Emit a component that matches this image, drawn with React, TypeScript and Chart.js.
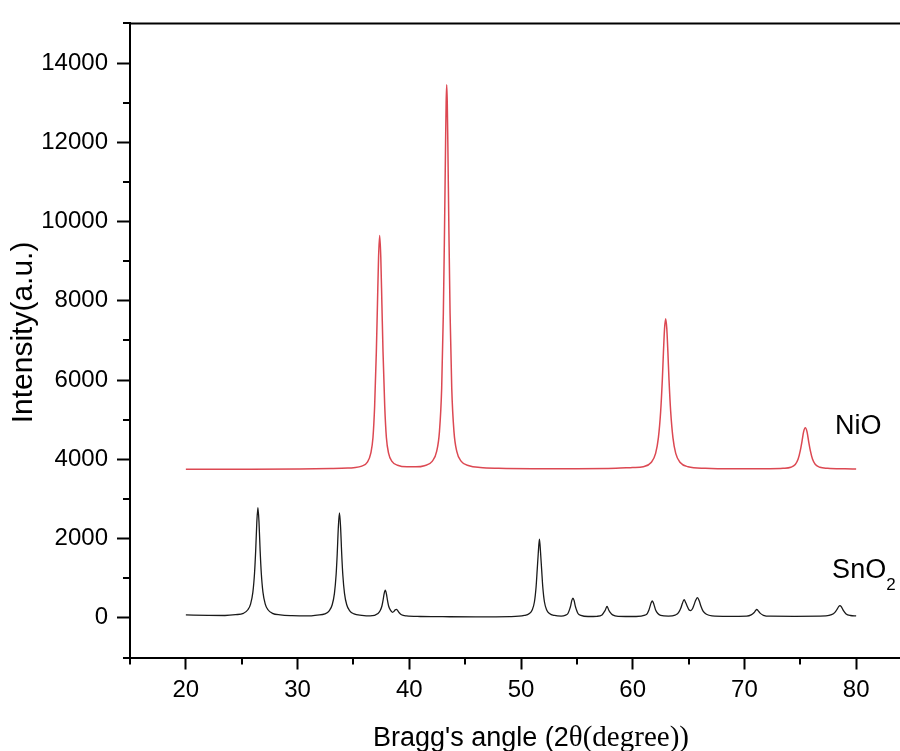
import React, { useEffect, useRef } from 'react';
import { Chart, registerables } from 'chart.js';

Chart.register(...registerables);

// ---- data ----
const niOAngles = [
  20, 25, 30, 33, 34.5, 35.0, 35.75, 36.25, 36.55, 36.75, 36.9, 37.05, 37.15, 37.25, 37.35,
  37.45, 37.55, 37.65, 37.8, 37.95, 38.15, 38.45, 38.95, 39.8, 40.6, 41.35, 42.05, 42.45,
  42.7, 42.9, 43.05, 43.15, 43.25, 43.3, 43.35, 43.4, 43.45, 43.55, 43.65, 43.8, 44.0, 44.25,
  44.65, 45.35, 46.35, 48, 51, 55, 58.5, 60.0, 60.95, 61.65, 62.05, 62.3, 62.5, 62.65, 62.75,
  62.85, 62.95, 63.05, 63.15, 63.25, 63.4, 63.6, 63.85, 64.25, 64.95, 66.5, 69, 72, 73.45,
  74.15, 74.55, 74.8, 75.0, 75.15, 75.3, 75.45, 75.6, 75.75, 75.9, 76.1, 76.35, 76.75, 77.45,
  79, 80,
];
const niOIntensity = [
  3750, 3752, 3758, 3768, 3780, 3790, 3830, 3930, 4150, 4550, 5350, 6700, 7900, 9100, 9650,
  9100, 7900, 6700, 5350, 4550, 4150, 3950, 3850, 3810, 3810, 3840, 3950, 4200,
  4700, 5800, 7700, 9700, 12000, 13000, 13450, 13000, 12000, 9700, 7700, 5800, 4700, 4200,
  3950, 3840, 3795, 3775, 3765, 3765, 3775, 3795, 3815, 3920, 4150, 4550, 5200, 6000, 6700,
  7300, 7550, 7300, 6700, 6000, 5200, 4550, 4150, 3920, 3815, 3775, 3762, 3765, 3775,
  3800, 3870, 4000, 4220, 4450, 4700, 4800, 4700, 4450, 4220, 4000, 3870, 3800, 3775,
  3760, 3755,
];

const snO2Angles = [
  20, 22, 23.5, 24.45, 25.15, 25.55, 25.8, 26.0, 26.15, 26.25, 26.35, 26.45, 26.55, 26.65,
  26.75, 26.9, 27.1, 27.35, 27.75, 28.45, 29.5, 31, 31.75, 32.45, 32.85, 33.1, 33.3, 33.45,
  33.55, 33.65, 33.75, 33.85, 33.95, 34.05, 34.2, 34.4, 34.65, 35.05, 35.75, 36.5, 37.2,
  37.4, 37.55, 37.65, 37.75, 37.85, 37.95, 38.05, 38.15, 38.3, 38.5, 38.65, 38.75, 38.85,
  38.95, 39.1, 39.3, 39.75, 41, 43, 46, 49, 50.3, 50.75, 51.0, 51.2, 51.35, 51.45, 51.55,
  51.65, 51.75, 51.85, 51.95, 52.1, 52.3, 52.55, 53.0, 53.6, 54.0, 54.2, 54.35, 54.45, 54.55,
  54.65, 54.75, 54.85, 54.95, 55.1, 55.35, 56, 56.8, 57.25, 57.4, 57.55, 57.7, 57.85, 58.0,
  58.2, 58.7, 60.3, 61.1, 61.3, 61.45, 61.55, 61.65, 61.75, 61.85, 61.95, 62.05, 62.25, 62.5,
  63.2, 63.8, 64.1, 64.3, 64.45, 64.6, 64.75, 64.9, 65.05, 65.2, 65.35, 65.5, 65.65, 65.8,
  65.95, 66.1, 66.3, 66.6, 67.1, 68.5, 70.2, 70.6, 70.85, 71.0, 71.1, 71.2, 71.4, 71.7, 72.3,
  74.5, 77.3, 77.8, 78.1, 78.3, 78.45, 78.55, 78.65, 78.85, 79.1, 79.5, 80,
];
const snO2Intensity = [
  75, 62, 60, 80, 115, 205, 355, 650, 1140, 1690, 2400, 2780, 2400, 1690,
  1140, 650, 355, 205, 115, 75, 55, 48, 70, 100, 185, 330, 620, 1090,
  1620, 2290, 2650, 2290, 1620, 1090, 620, 330, 185, 100, 65, 50, 110,
  185, 300, 440, 610, 700, 610, 440, 300, 200, 140, 170, 205, 215,
  190, 130, 80, 50, 35, 30, 25, 30, 60, 110, 200, 400, 780, 1210, 1650,
  1985, 1650, 1210, 780, 400, 200, 110, 60, 45, 70, 110, 215, 310, 440,
  500, 440, 310, 215, 110, 65, 35, 40, 75, 130, 200, 290, 200, 130,
  75, 40, 35, 70, 110, 200, 290, 380, 430, 380, 290, 200, 110, 65,
  45, 70, 130, 240, 370, 460, 380, 280, 200, 185, 230, 340, 450, 510,
  430, 300, 170, 90, 50, 38, 45, 75, 130, 185, 215, 190, 120, 65, 42,
  40, 50, 80, 140, 220, 290, 310, 290, 190, 100, 60, 50,
];

const xMajorTicks = [20, 30, 40, 50, 60, 70, 80];
const xMinorTicks = [15, 25, 35, 45, 55, 65, 75, 85];
const yMajorTicks = [0, 2000, 4000, 6000, 8000, 10000, 12000, 14000];
const yMinorTicks = [-1000, 1000, 3000, 5000, 7000, 9000, 11000, 13000, 15000];

const seriesNames = ['NiO', 'SnO2'];
const xTitleSans = "Bragg's angle (2";
const xTitleSerif = 'θ(degree))';
const yTitle = 'Intensity(a.u.)';

const SANS = '"Liberation Sans", Arial, sans-serif';
const SERIF = '"Liberation Serif", "Times New Roman", serif';

const decorPlugin = {
  id: 'decor',
  afterDraw(chart: any) {
    const { ctx, chartArea, scales } = chart;
    const x = scales.x;
    const y = scales.y;
    ctx.save();
    ctx.strokeStyle = '#000';
    ctx.lineWidth = 2;
    ctx.beginPath();
    // top frame line
    ctx.moveTo(chartArea.left - 1, chartArea.top);
    ctx.lineTo(chartArea.right + 2, chartArea.top);
    // minor ticks
    xMinorTicks.forEach((v) => {
      const px = Math.round(x.getPixelForValue(v));
      ctx.moveTo(px, chartArea.bottom);
      ctx.lineTo(px, chartArea.bottom + 7);
    });
    yMinorTicks.forEach((v) => {
      const py = Math.round(y.getPixelForValue(v));
      ctx.moveTo(chartArea.left, py);
      ctx.lineTo(chartArea.left - 7, py);
    });
    ctx.stroke();

    // series labels
    ctx.fillStyle = '#000';
    ctx.textBaseline = 'alphabetic';
    ctx.textAlign = 'left';
    ctx.font = `27px ${SANS}`;
    ctx.fillText(seriesNames[0], x.getPixelForValue(78.1), y.getPixelForValue(4630));
    const sx = x.getPixelForValue(77.85);
    const sy = y.getPixelForValue(1010);
    const main = seriesNames[1].slice(0, 3);
    const sub = seriesNames[1].slice(3);
    ctx.fillText(main, sx, sy);
    const w = ctx.measureText(main).width;
    ctx.font = `17px ${SANS}`;
    ctx.fillText(sub, sx + w, sy + 12);

    // x axis title with mixed fonts
    ctx.font = `27px ${SANS}`;
    const wa = ctx.measureText(xTitleSans).width;
    ctx.font = `29px ${SERIF}`;
    const wb = ctx.measureText(xTitleSerif).width;
    const cx = (chartArea.left + chartArea.right) / 2 + 10;
    const by = chartArea.bottom + 88.5;
    const start = cx - (wa + wb) / 2;
    ctx.font = `27px ${SANS}`;
    ctx.fillText(xTitleSans, start, by);
    ctx.font = `29px ${SERIF}`;
    ctx.fillText(xTitleSerif, start + wa, by);

    // y axis title
    ctx.save();
    ctx.translate(24, (chartArea.top + chartArea.bottom) / 2 - 8);
    ctx.rotate(-Math.PI / 2);
    ctx.font = `30px ${SANS}`;
    ctx.textAlign = 'center';
    ctx.textBaseline = 'middle';
    ctx.fillText(yTitle, 0, 0);
    ctx.restore();

    ctx.restore();
  },
};

export default function App() {
  const ref = useRef<HTMLCanvasElement>(null);
  useEffect(() => {
    const canvas = ref.current;
    if (!canvas) return;
    const chart = new Chart(canvas, {
      type: 'line',
      data: {
        datasets: [
          {
            label: seriesNames[0],
            data: niOAngles.map((a, i) => ({ x: a, y: niOIntensity[i] })),
            borderColor: '#dc4852',
            borderWidth: 1.5,
            pointRadius: 0,
            fill: false,
            cubicInterpolationMode: 'monotone',
          },
          {
            label: seriesNames[1],
            data: snO2Angles.map((a, i) => ({ x: a, y: snO2Intensity[i] })),
            borderColor: '#1a1a1a',
            borderWidth: 1.3,
            pointRadius: 0,
            fill: false,
            cubicInterpolationMode: 'monotone',
          },
        ],
      },
      options: {
        animation: false,
        responsive: false,
        devicePixelRatio: 1,
        layout: { padding: { top: 20, right: 8, left: 0, bottom: 0 } },
        plugins: {
          legend: { display: false },
          tooltip: { enabled: false },
        },
        scales: {
          x: {
            type: 'linear',
            min: 15,
            max: 85,
            afterBuildTicks: (s: any) => {
              s.ticks = xMajorTicks.map((v) => ({ value: v }));
            },
            afterFit: (s: any) => {
              s.height = 93.5;
            },
            ticks: {
              color: '#000',
              font: { family: SANS, size: 24 },
              padding: 6,
              maxRotation: 0,
              autoSkip: false,
              callback: (v: any) => String(v),
            },
            grid: {
              drawOnChartArea: false,
              drawTicks: true,
              tickLength: 12,
              tickWidth: 2,
              tickColor: '#000',
            },
            border: { display: true, color: '#000', width: 2 },
          },
          y: {
            type: 'linear',
            min: -1000,
            max: 15000,
            afterBuildTicks: (s: any) => {
              s.ticks = yMajorTicks.map((v) => ({ value: v }));
            },
            afterFit: (s: any) => {
              s.width = 130;
            },
            ticks: {
              color: '#000',
              font: { family: SANS, size: 24 },
              padding: 9,
              autoSkip: false,
              callback: (v: any) => String(v),
            },
            grid: {
              drawOnChartArea: false,
              drawTicks: true,
              tickLength: 13,
              tickWidth: 2,
              tickColor: '#000',
            },
            border: { display: true, color: '#000', width: 2 },
          },
        },
      },
      plugins: [decorPlugin],
    } as any);
    return () => chart.destroy();
  }, []);

  return (
    <div
      style={{
        position: 'fixed',
        left: 0,
        top: 0,
        width: 900,
        height: 751,
        overflow: 'hidden',
        background: '#fff',
      }}
    >
      <canvas ref={ref} width={920} height={751} style={{ display: 'block' }} />
    </div>
  );
}
